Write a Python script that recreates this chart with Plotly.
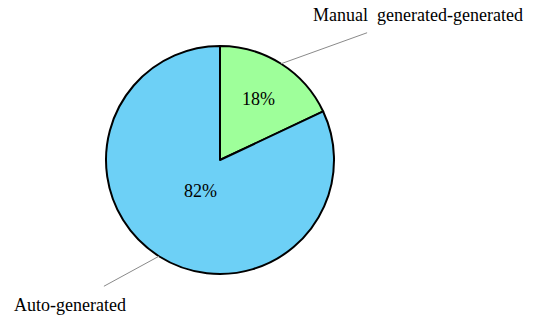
import math
import plotly.graph_objects as go

labels = ["Manual generated-generated", "Auto-generated"]
display_labels = ["Manual\u00a0 generated-generated", "Auto-generated"]
values = [18, 82]
colors = ["#9eff9a", "#6dd0f6"]

W, H = 536, 322
cx, cy, R = 220, 160, 114  # pie placement in pixels

dom_x = [(cx - R) / W, (cx + R) / W]
dom_y = [1 - (cy + R) / H, 1 - (cy - R) / H]

fig = go.Figure(go.Pie(
    labels=labels, values=values, sort=False, direction="clockwise", rotation=0,
    marker=dict(colors=colors, line=dict(color="black", width=2)),
    textinfo="none",
    domain=dict(x=dom_x, y=dom_y), showlegend=False, hoverinfo="label+percent",
))

total = sum(values)
offsets = [(86, -31), (-55, 30)]      # leader line vectors (px)
text_pos = [(418, 15), (70, 305)]     # outside label centres (px)
pct_frac = [0.63, 0.32]               # radial position of percentage text
font = dict(family="Liberation Serif", size=18, color="black")
cum = 0
shapes, annots = [], []
for i, v in enumerate(values):
    mid = (cum + v / 2) / total * 2 * math.pi
    cum += v
    sx = cx + R * math.sin(mid)
    sy = cy - R * math.cos(mid)
    ex, ey = sx + offsets[i][0], sy + offsets[i][1]
    shapes.append(dict(type="line", xref="paper", yref="paper",
                       x0=sx / W, y0=1 - sy / H, x1=ex / W, y1=1 - ey / H,
                       line=dict(color="#8a8a8a", width=1)))
    tx, ty = text_pos[i]
    annots.append(dict(text=display_labels[i], xref="paper", yref="paper",
                       x=tx / W, y=1 - ty / H, xanchor="center", yanchor="middle",
                       showarrow=False, font=font))
    px = cx + pct_frac[i] * R * math.sin(mid)
    py = cy - pct_frac[i] * R * math.cos(mid)
    annots.append(dict(text=f"{round(100 * v / total)}%", xref="paper", yref="paper",
                       x=px / W, y=1 - py / H, xanchor="center", yanchor="middle",
                       showarrow=False, font=font))

fig.update_layout(
    width=W, height=H, margin=dict(l=0, r=0, t=0, b=0),
    paper_bgcolor="white", plot_bgcolor="white",
    shapes=shapes, annotations=annots,
)
fig.write_html("out.html")
